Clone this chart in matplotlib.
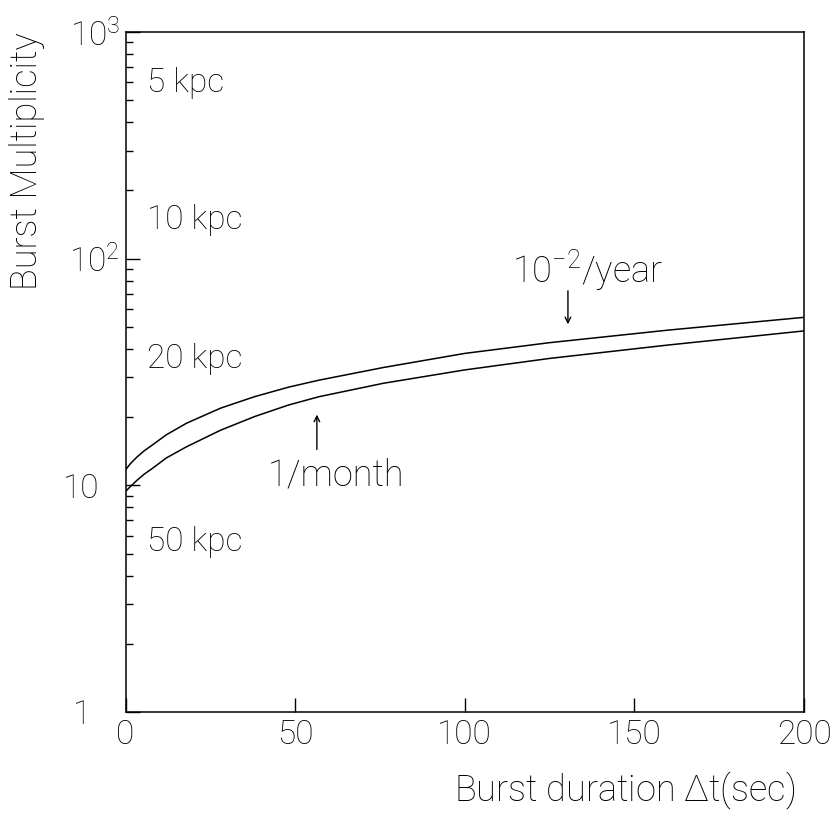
import matplotlib
matplotlib.use("Agg")
import matplotlib.pyplot as plt
import matplotlib.transforms as mtransforms

# 字体：细体无衬线，尽量接近原图
plt.rcParams['font.family'] = ['Roboto', 'DejaVu Sans']
plt.rcParams['font.weight'] = 'light'
plt.rcParams['axes.labelweight'] = 'light'
plt.rcParams['mathtext.fontset'] = 'custom'
plt.rcParams['mathtext.rm'] = 'Roboto:light'
plt.rcParams['mathtext.it'] = 'Roboto:light'

# ---- 数据----
duration = [0, 1.5, 3.3, 5.5, 8, 12, 18, 28, 38, 48, 57, 76, 100, 125, 160, 200]
mult_year = [11.7, 12.5, 13.3, 14.2, 15.1, 16.7, 18.8, 21.9, 24.6, 27.1, 29.1, 33.1, 38.2, 42.6, 48.4, 55.1]
mult_month = [9.4, 9.9, 10.5, 11.2, 11.9, 13.2, 14.8, 17.5, 20.1, 22.6, 24.6, 28.2, 32.3, 36.3, 41.6, 48.0]

dist_labels = ['5 kpc', '10 kpc', '20 kpc', '50 kpc']
dist_mult = [595, 148, 36, 5.6]

ytick_vals = [1, 10, 100, 1000]
ytick_labels = ['1', '10', r'$10^2$', r'$10^3$']
xtick_vals = [0, 50, 100, 150, 200]

fig = plt.figure(figsize=(8.38, 8.23), dpi=100)
ax = fig.add_axes([0.1498, 0.1349, 0.8097, 0.8262])

ax.plot(duration, mult_year, color='black', lw=1.1)
ax.plot(duration, mult_month, color='black', lw=1.1)

ax.set_yscale('log')
ax.set_xlim(0, 200)
ax.set_ylim(1, 1000)

ax.set_xticks(xtick_vals)
ax.set_xticklabels([str(v) for v in xtick_vals])
ax.set_yticks(ytick_vals)
ax.set_yticklabels(ytick_labels)
ax.yaxis.set_minor_locator(matplotlib.ticker.LogLocator(base=10, subs=range(2, 10)))
ax.yaxis.set_minor_formatter(matplotlib.ticker.NullFormatter())

ax.tick_params(axis='both', which='major', direction='in', length=10, width=1,
               labelsize=24, top=False, right=False)
ax.tick_params(axis='x', pad=5)
ax.tick_params(axis='y', pad=4)
ax.tick_params(axis='y', which='minor', direction='in', length=5, width=1)
ax.tick_params(axis='x', which='minor', bottom=False)

# "1" 和 "10" 标签向左错开
offsets = {'1': -29, '10': -21}
for lab in ax.get_yticklabels():
    dx = offsets.get(lab.get_text(), 0)
    if dx:
        lab.set_transform(lab.get_transform() +
                          mtransforms.ScaledTranslation(dx / 100, 0, fig.dpi_scale_trans))

for s in ax.spines.values():
    s.set_linewidth(1.1)

ax.set_xlabel(r'Burst duration $\Delta$t(sec)', fontsize=26, fontweight='light')
ax.xaxis.set_label_coords(0.987, -0.085)
ax.xaxis.label.set_ha('right')
ax.set_ylabel('Burst Multiplicity', fontsize=26, fontweight='light', loc='top')
ax.yaxis.set_label_coords(-0.119, 1.0)

for lab, m in zip(dist_labels, dist_mult):
    ax.text(6.3, m, lab, fontsize=24, va='center', ha='left')

ax.text(113.9, 78.8, r'$10^{-2}$/year', fontsize=26, va='baseline', ha='left')
ax.annotate('', xy=(130.4, 49.9), xytext=(130.4, 74.2),
            arrowprops=dict(arrowstyle='->', lw=1, color='black'))
ax.text(42, 11.1, '1/month', fontsize=26, va='center', ha='left')
ax.annotate('', xy=(56.4, 21.1), xytext=(56.4, 14.0),
            arrowprops=dict(arrowstyle='->', lw=1, color='black'))

fig.savefig('out.png', dpi=100)
